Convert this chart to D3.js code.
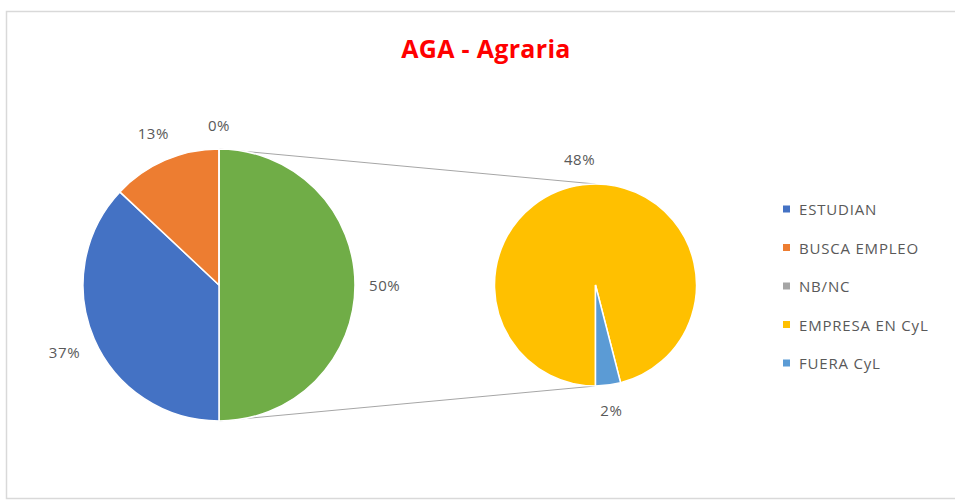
<!DOCTYPE html>
<html>
<head>
<meta charset="utf-8">
<script src="https://cdn.jsdelivr.net/npm/d3@7"></script>
<style>
  body { margin: 0; background: #fff; }
  svg { display: block; }
</style>
</head>
<body>
<div class="canvas"></div>
<script>
// data
const mainCategories = ['Otros', 'ESTUDIAN', 'BUSCA EMPLEO', 'NB/NC'];
const mainValues = [50, 37, 13, 0];
const subCategories = ['EMPRESA EN CyL', 'FUERA CyL'];
const subValues = [48, 2];
const legendCategories = ['ESTUDIAN', 'BUSCA EMPLEO', 'NB/NC', 'EMPRESA EN CyL', 'FUERA CyL'];

const colors = {
  'Otros': '#70AD47',
  'ESTUDIAN': '#4472C4',
  'BUSCA EMPLEO': '#ED7D31',
  'NB/NC': '#A5A5A5',
  'EMPRESA EN CyL': '#FFC000',
  'FUERA CyL': '#5B9BD5'
};

const width = 955;
const height = 501;
const total = d3.sum(mainValues);

const svg = d3.select('.canvas')
  .append('svg')
   .attr('width', width)
   .attr('height', height);

// chart frame
svg.append('rect')
  .attr('x', 6.5)
  .attr('y', 11.5)
  .attr('width', width)
  .attr('height', 487)
  .attr('fill', 'none')
  .attr('stroke', '#d9d9d9')
  .attr('stroke-width', 1.5);

// title
svg.append('text')
  .attr('x', 486)
  .attr('y', 58)
  .attr('text-anchor', 'middle')
  .attr('font-family', 'Open Sans, sans-serif')
  .attr('font-weight', 'bold')
  .attr('font-size', '25px')
  .attr('letter-spacing', '0.3px')
  .attr('fill', '#FF0000')
  .text('AGA - Agraria');

const main = { cx: 219, cy: 285, r: 136 };
const sub = { cx: 595.5, cy: 285, r: 101 };

// connector lines between the two pies
const connectors = svg.append('g')
  .attr('stroke', '#a6a6a6')
  .attr('stroke-width', 1);
connectors.append('line')
  .attr('x1', main.cx).attr('y1', main.cy - main.r)
  .attr('x2', sub.cx).attr('y2', sub.cy - sub.r);
connectors.append('line')
  .attr('x1', main.cx).attr('y1', main.cy + main.r)
  .attr('x2', sub.cx).attr('y2', sub.cy + sub.r);

// pie layouts
const mainPie = d3.pie().sort(null).value(d => d.value)
  .startAngle(0).endAngle(2 * Math.PI);
const subPie = d3.pie().sort(null).value(d => d.value)
  .startAngle(Math.PI).endAngle(3 * Math.PI);

const mainData = mainPie(mainCategories.map((c, i) => ({ name: c, value: mainValues[i] })));
const subData = subPie(subCategories.map((c, i) => ({ name: c, value: subValues[i] })));

function drawPie(data, pos) {
  const arc = d3.arc().innerRadius(0).outerRadius(pos.r);
  const g = svg.append('g')
    .attr('transform', `translate(${pos.cx}, ${pos.cy})`);

  g.selectAll('path')
    .data(data)
    .enter()
    .append('path')
     .attr('d', arc)
     .attr('fill', d => colors[d.data.name])
     .attr('stroke', '#fff')
     .attr('stroke-width', 1.5);

  // outside-end labels, pushed out by half the text box
  const labels = g.selectAll('text')
    .data(data)
    .enter()
    .append('text')
     .attr('text-anchor', 'middle')
     .attr('dominant-baseline', 'central')
     .attr('font-family', 'Open Sans, sans-serif')
     .attr('font-size', '15px')
     .attr('letter-spacing', '0.6px')
     .attr('fill', '#595959')
     .text(d => Math.round(d.data.value / total * 100) + '%');

  labels.each(function(d) {
    const a = (d.startAngle + d.endAngle) / 2;
    const dx = Math.sin(a), dy = -Math.cos(a);
    const box = this.getBBox();
    const dist = pos.r + 14 + Math.abs(dx) * box.width / 2 + Math.abs(dy) * box.height / 2;
    d3.select(this)
      .attr('x', dx * dist)
      .attr('y', dy * dist);
  });
}

drawPie(mainData, main);
drawPie(subData, sub);

// legend
const legend = svg.append('g')
  .attr('transform', 'translate(783, 209)');

const items = legend.selectAll('g')
  .data(legendCategories)
  .enter()
  .append('g')
   .attr('transform', (d, i) => `translate(0, ${i * 38.5})`);

items.append('rect')
  .attr('x', 0)
  .attr('y', -3.5)
  .attr('width', 7)
  .attr('height', 7)
  .attr('fill', d => colors[d]);

items.append('text')
  .attr('x', 16)
  .attr('y', 0)
  .attr('dominant-baseline', 'central')
  .attr('font-family', 'Open Sans, sans-serif')
  .attr('font-size', '15px')
  .attr('letter-spacing', '0.8px')
  .attr('fill', '#595959')
  .text(d => d);
</script>
</body>
</html>
